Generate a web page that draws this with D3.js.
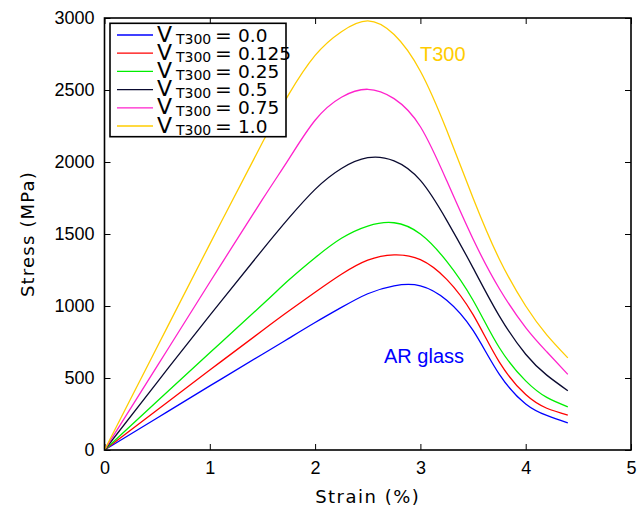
<!DOCTYPE html>
<html>
<head>
<meta charset="utf-8">
<script src="https://cdn.jsdelivr.net/npm/d3@7/dist/d3.min.js"></script>
<style>
  html, body { margin: 0; padding: 0; background: #fff; }
  svg { display: block; }
</style>
</head>
<body>
<svg id="chart" width="643" height="511"></svg>
<script>
// Strain grid (%) shared by all curves
const strain = [0, 0.5, 1, 1.5, 1.75, 2, 2.25, 2.5, 2.75, 3, 3.25, 3.5, 3.75, 4, 4.2, 4.4];

// Stress (MPa) for each T300 volume fraction
const stressV0    = [0, 222, 445, 665, 775, 885, 990, 1085, 1140, 1140, 1040, 830, 525, 320, 240, 188];
const stressV0125 = [0, 278, 555, 830, 965, 1095, 1220, 1318, 1355, 1322, 1185, 940, 610, 385, 290, 243];
const stressV025  = [0, 338, 675, 1010, 1180, 1335, 1470, 1555, 1578, 1500, 1310, 1040, 710, 480, 365, 300];
const stressV05   = [0, 470, 935, 1390, 1610, 1810, 1955, 2030, 2008, 1872, 1595, 1265, 930, 665, 520, 412];
const stressV075  = [0, 582, 1165, 1740, 2020, 2290, 2450, 2505, 2440, 2245, 1870, 1465, 1120, 850, 682, 525];
const stressV1    = [0, 715, 1430, 2135, 2470, 2740, 2905, 2980, 2885, 2630, 2220, 1750, 1325, 1000, 800, 640];

const fractionLabels = ["0.0", "0.125", "0.25", "0.5", "0.75", "1.0"];
const seriesColors = ["#0000ff", "#ff0000", "#00ee00", "#0a0a30", "#ff22cc", "#ffcc00"];
const seriesValues = [stressV0, stressV0125, stressV025, stressV05, stressV075, stressV1];

const xTicks = [0, 1, 2, 3, 4, 5];
const yTicks = [0, 500, 1000, 1500, 2000, 2500, 3000];

const svg = d3.select("#chart");
const plotLeft = 104.5, plotRight = 631, plotTop = 18, plotBottom = 450;

const x = d3.scaleLinear().domain([0, 5]).range([plotLeft, plotRight]);
const y = d3.scaleLinear().domain([0, 3000]).range([plotBottom, plotTop]);

const tickFont = "'Liberation Sans', Arial, Helvetica, sans-serif";
const labelFont = "'DejaVu Sans', sans-serif";

// Axes with inward ticks on all four sides
const gx = svg.append("g").attr("transform", `translate(0,${plotBottom})`)
  .call(d3.axisBottom(x).tickValues(xTicks).tickFormat(d3.format("d"))
    .tickSizeInner(-6).tickSizeOuter(0).tickPadding(11));
const gy = svg.append("g").attr("transform", `translate(${plotLeft},0)`)
  .call(d3.axisLeft(y).tickValues(yTicks).tickFormat(d3.format("d"))
    .tickSizeInner(-6).tickSizeOuter(0).tickPadding(10));
const gxt = svg.append("g").attr("transform", `translate(0,${plotTop})`)
  .call(d3.axisTop(x).tickValues(xTicks).tickFormat("").tickSizeInner(-6).tickSizeOuter(0));
const gyr = svg.append("g").attr("transform", `translate(${plotRight},0)`)
  .call(d3.axisRight(y).tickValues(yTicks).tickFormat("").tickSizeInner(-6).tickSizeOuter(0));

[gx, gy, gxt, gyr].forEach(g => {
  g.select(".domain").remove();
  g.selectAll(".tick line").attr("stroke", "#000").attr("stroke-width", 1);
  g.selectAll(".tick text").attr("font-family", tickFont).attr("font-size", 18).attr("fill", "#000");
});

// Curves: smooth spline through the sampled stress values
const line = d3.line()
  .x(d => x(d[0]))
  .y(d => y(d[1]))
  .curve(d3.curveNatural);

seriesValues.forEach((vals, i) => {
  svg.append("path")
    .datum(strain.map((s, k) => [s, vals[k]]))
    .attr("fill", "none")
    .attr("stroke", seriesColors[i])
    .attr("stroke-width", 1.3)
    .attr("d", line);
});

// Plot frame
svg.append("rect")
  .attr("x", plotLeft).attr("y", plotTop)
  .attr("width", plotRight - plotLeft).attr("height", plotBottom - plotTop)
  .attr("fill", "none").attr("stroke", "#000").attr("stroke-width", 1.6);

// Annotations
svg.append("text").attr("x", 420).attr("y", 61)
  .attr("font-family", tickFont).attr("font-size", 20).attr("fill", "#ffcc00")
  .text("T300");
svg.append("text").attr("x", 384).attr("y", 363)
  .attr("font-family", tickFont).attr("font-size", 20).attr("fill", "#0000ff")
  .text("AR glass");

// Axis titles
svg.append("text")
  .attr("x", (plotLeft + plotRight) / 2).attr("y", 503)
  .attr("text-anchor", "middle")
  .attr("font-family", labelFont).attr("font-size", 18).attr("letter-spacing", 1.5)
  .text("Strain (%)");
svg.append("text")
  .attr("transform", `translate(34,${(plotTop + plotBottom) / 2}) rotate(-90)`)
  .attr("text-anchor", "middle")
  .attr("font-family", labelFont).attr("font-size", 18).attr("letter-spacing", 1.2)
  .text("Stress (MPa)");

// Legend
const legend = svg.append("g");
legend.append("rect")
  .attr("x", 110).attr("y", 23.3).attr("width", 176).attr("height", 113.4)
  .attr("fill", "#fff").attr("stroke", "#000").attr("stroke-width", 1.6);

const rowY = d3.scaleLinear().domain([0, 5]).range([35, 126]);
fractionLabels.forEach((lab, i) => {
  const yy = rowY(i);
  legend.append("line")
    .attr("x1", 117).attr("x2", 153).attr("y1", yy).attr("y2", yy)
    .attr("stroke", seriesColors[i]).attr("stroke-width", 1.3);
  const t = legend.append("text")
    .attr("font-family", labelFont).attr("fill", "#000");
  t.append("tspan").attr("x", 157).attr("y", yy + 6.5).attr("font-size", 22).text("V");
  t.append("tspan").attr("x", 176).attr("y", yy + 8.5).attr("font-size", 14).text("T300");
  t.append("tspan").attr("x", 215).attr("y", yy + 6.5).attr("font-size", 20).text("=");
  t.append("tspan").attr("x", 238).attr("y", yy + 6.5).attr("font-size", 18.5).text(lab);
});
</script>
</body>
</html>
